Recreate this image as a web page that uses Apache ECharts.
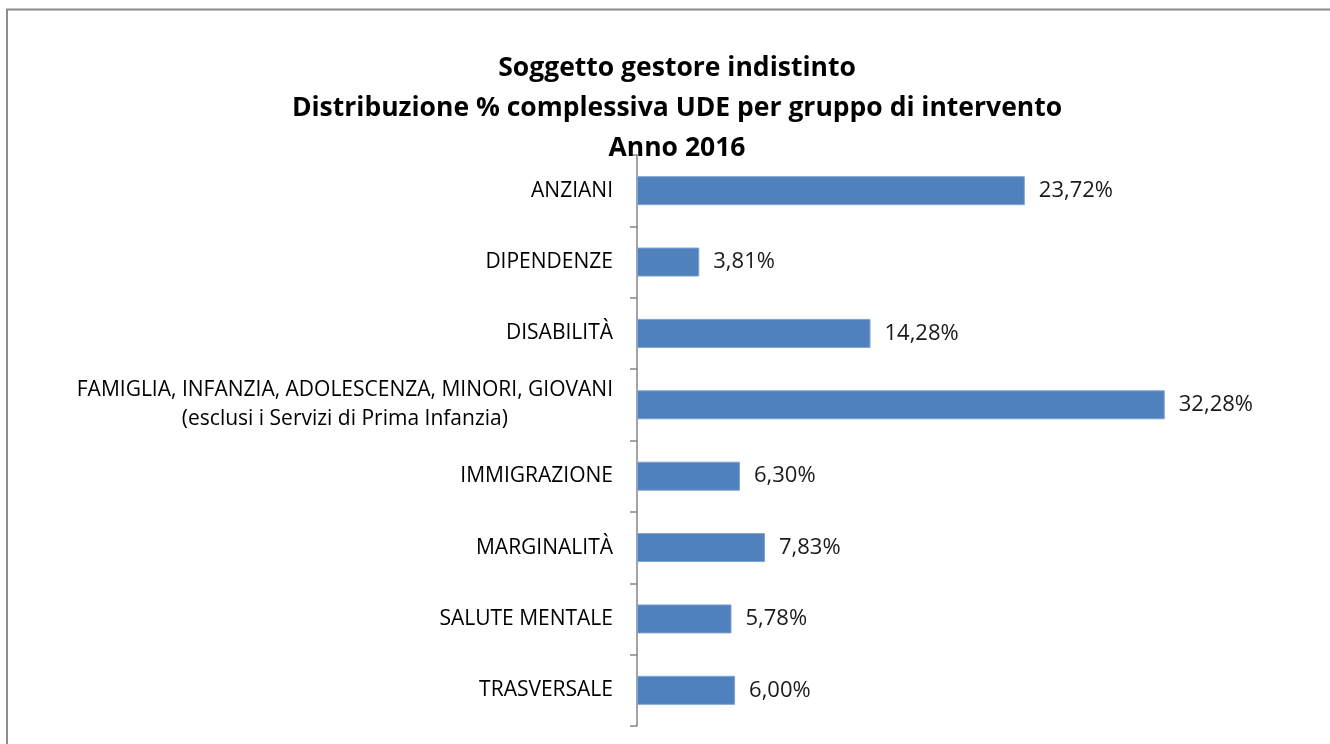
<!DOCTYPE html>
<html>
<head>
<meta charset="utf-8">
<script src="https://cdn.jsdelivr.net/npm/echarts@6/dist/echarts.min.js"></script>
<style>
html,body{margin:0;padding:0;background:#fff;}
#main{width:1330px;height:744px;}
</style>
</head>
<body>
<div id="main"></div>
<script>
var titleLines = ['Soggetto gestore indistinto', 'Distribuzione % complessiva UDE per gruppo di intervento', 'Anno 2016'];
var categories = [
  'ANZIANI',
  'DIPENDENZE',
  'DISABILITÀ',
  'FAMIGLIA, INFANZIA, ADOLESCENZA, MINORI, GIOVANI\n(esclusi i Servizi di Prima Infanzia)',
  'IMMIGRAZIONE',
  'MARGINALITÀ',
  'SALUTE MENTALE',
  'TRASVERSALE'
];
var values = [23.72, 3.81, 14.28, 32.28, 6.30, 7.83, 5.78, 6.00];

var FONT = 'Open Sans';
var chart = echarts.init(document.getElementById('main'));
chart.setOption({
  backgroundColor: '#ffffff',
  animation: false,
  title: {
    text: titleLines.join('\n'),
    left: 672,
    textAlign: 'center',
    top: 43,
    textStyle: {
      fontFamily: FONT,
      fontWeight: 'bold',
      fontSize: 26.5,
      lineHeight: 40,
      color: '#000000'
    }
  },
  graphic: [
    {type: 'line', shape: {x1: 6, y1: 9.5, x2: 1330, y2: 9.5}, style: {stroke: '#8c8c8c', lineWidth: 2}},
    {type: 'line', shape: {x1: 7, y1: 9, x2: 7, y2: 744}, style: {stroke: '#8c8c8c', lineWidth: 2}}
  ],
  grid: {left: 637, right: 39, top: 155, bottom: 18, containLabel: false},
  xAxis: {
    type: 'value',
    min: 0,
    max: 40,
    show: false
  },
  yAxis: {
    type: 'category',
    data: categories,
    inverse: true,
    axisLine: {show: true, lineStyle: {color: '#868686', width: 1.5}},
    axisTick: {show: true, length: 7, lineStyle: {color: '#868686', width: 1.5}},
    axisLabel: {
      margin: 24,
      color: '#000000',
      fontFamily: FONT,
      fontSize: 21,
      formatter: function (v) {
        return v.split('\n').map(function (s) { return '{c|' + s + '}'; }).join('\n');
      },
      rich: {
        c: {align: 'center', fontFamily: FONT, fontSize: 21, color: '#000000', lineHeight: 29}
      }
    },
    splitLine: {show: false}
  },
  series: [{
    type: 'bar',
    data: values,
    barWidth: 29,
    itemStyle: {color: '#4f81bd', borderColor: '#7fa3d2', borderWidth: 1},
    label: {
      show: true,
      position: 'right',
      distance: 14,
      color: '#1a1a1a',
      fontFamily: FONT,
      fontSize: 22,
      formatter: function (p) { return p.value.toFixed(2).replace('.', ',') + '%'; }
    }
  }]
});
</script>
</body>
</html>
